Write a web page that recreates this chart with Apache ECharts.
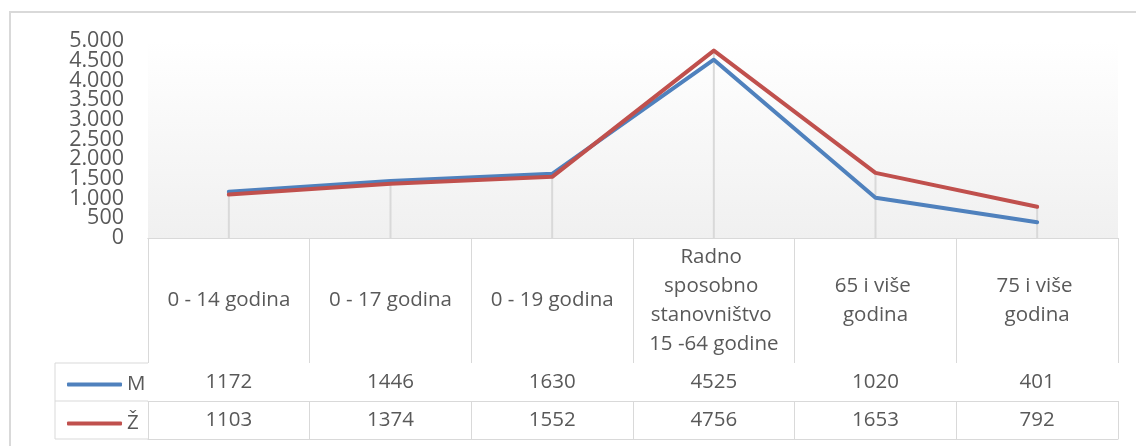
<!DOCTYPE html>
<html>
	<head>
		<meta charset="UTF-8">
		<title>Stanovništvo po dobnim skupinama</title>
		<style type="text/css">
			body{
				margin: 0;
				background: #fff;
			}
			#main{
				width: 1136px;
				height: 446px;
			}
		</style>
	</head>
	<body>
		<div id="main"></div>
		<script src="https://cdn.jsdelivr.net/npm/echarts@6/dist/echarts.min.js"></script>
		<script type="text/javascript">
			var categories = ['0 - 14 godina', '0 - 17 godina', '0 - 19 godina', 'Radno sposobno stanovništvo 15 -64 godine', '65 i više godina', '75 i više godina'];
			var seriesNames = ['M', 'Ž'];
			var valuesM = [1172, 1446, 1630, 4525, 1020, 401];
			var valuesZ = [1103, 1374, 1552, 4756, 1653, 792];
			var yRange = [0, 5000];
			// oznake osi su gusto složene pa ih dijelimo na dvije osi (inače se preklapaju i skrivaju)
			var yTicksEven = [0, 1000, 2000, 3000, 4000, 5000];
			var yTicksOdd = [500, 1500, 2500, 3500, 4500];

			// raspored (piksel)
			var gridLeft = 148, gridRight = 18, gridTop = 41, gridBottom = 208;
			var catRow = 125, valRow = 38, legendLeft = 55;
			var axisY = 446 - gridBottom;
			var lineColor = '#d9d9d9';
			var textColor = '#595959';
			var font = 'Open Sans';

			// drop linije do najviše točke
			var dropValues = [];
			for (var i = 0; i < valuesM.length; i++) {
				dropValues.push(Math.max(valuesM[i], valuesZ[i]));
			}

			function fmt(v){
				return String(v).replace(/\B(?=(\d{3})+(?!\d))/g, '.');
			}

			function valueAxis(ticks){
				return {
					type: 'value',
					position: 'left',
					min: yRange[0],
					max: yRange[1],
					axisLine: {show: false},
					axisTick: {show: false},
					splitLine: {show: false},
					axisLabel: {
						customValues: ticks,
						margin: 24,
						showMinLabel: true,
						showMaxLabel: true,
						color: textColor,
						fontFamily: font,
						fontSize: 21.5,
						formatter: fmt
					}
				};
			}

			function tableAxis(offset, values, showTicks){
				return {
					type: 'category',
					position: 'bottom',
					offset: offset,
					data: categories,
					axisLine: {show: true, lineStyle: {color: lineColor, width: 1}},
					axisTick: {show: showTicks, length: valRow, interval: 0, lineStyle: {color: lineColor}},
					axisLabel: {
						show: !!values,
						interval: 0,
						margin: valRow / 2,
						verticalAlign: 'middle',
						color: textColor,
						fontFamily: font,
						fontSize: 20.5,
						formatter: function(v, idx){ return values ? String(values[idx]) : ''; }
					},
					splitLine: {show: false}
				};
			}

			var myChart = echarts.init(document.getElementById('main'));
			var option = {
				animation: false,
				color: ['#4f81bd', '#c0504d'],
				grid: {
					left: gridLeft, right: gridRight, top: gridTop, bottom: gridBottom,
					show: true,
					borderWidth: 0,
					backgroundColor: new echarts.graphic.LinearGradient(0, 0, 0, 1, [
						{offset: 0, color: '#ffffff'},
						{offset: 1, color: '#f0f0f0'}
					])
				},
				legend: {
					orient: 'vertical',
					left: legendLeft + 7,
					top: axisY + catRow + valRow / 2 - 13,
					itemWidth: 55,
					itemHeight: 4,
					itemGap: 18,
					icon: 'roundRect',
					data: seriesNames,
					textStyle: {color: textColor, fontFamily: font, fontSize: 20.5, lineHeight: 20, padding: [0, 0, 0, 0]}
				},
				xAxis: [
					{
						type: 'category',
						data: categories,
						axisLine: {show: true, lineStyle: {color: lineColor, width: 1}},
						axisTick: {show: true, length: catRow, interval: 0, lineStyle: {color: lineColor}},
						axisLabel: {
							interval: 0,
							margin: catRow / 2,
							verticalAlign: 'middle',
							width: 138,
							overflow: 'break',
							lineHeight: 29,
							color: textColor,
							fontFamily: font,
							fontSize: 20.5
						},
						splitLine: {show: false}
					},
					tableAxis(catRow, valuesM, true),
					tableAxis(catRow + valRow, valuesZ, true),
					tableAxis(catRow + valRow * 2, null, false)
				],
				yAxis: [valueAxis(yTicksEven), valueAxis(yTicksOdd)],
				series: [
					{
						name: 'drop',
						type: 'bar',
						barWidth: 2,
						silent: true,
						itemStyle: {color: lineColor},
						data: dropValues,
						z: 1
					},
					{
						name: seriesNames[0],
						type: 'line',
						symbol: 'none',
						lineStyle: {width: 4, cap: 'round', join: 'round'},
						data: valuesM,
						z: 3
					},
					{
						name: seriesNames[1],
						type: 'line',
						symbol: 'none',
						lineStyle: {width: 4, cap: 'round', join: 'round'},
						data: valuesZ,
						z: 3
					}
				],
				graphic: [
					// vanjski okvir
					{type: 'rect', shape: {x: 10, y: 12, width: 1140, height: 450}, style: {fill: 'none', stroke: lineColor, lineWidth: 2}},
					// lijevi stupac tablice (legenda)
					{type: 'line', shape: {x1: legendLeft, y1: axisY + catRow, x2: gridLeft, y2: axisY + catRow}, style: {stroke: lineColor, lineWidth: 1}},
					{type: 'line', shape: {x1: legendLeft, y1: axisY + catRow + valRow, x2: gridLeft, y2: axisY + catRow + valRow}, style: {stroke: lineColor, lineWidth: 1}},
					{type: 'line', shape: {x1: legendLeft, y1: axisY + catRow + valRow * 2, x2: gridLeft, y2: axisY + catRow + valRow * 2}, style: {stroke: lineColor, lineWidth: 1}},
					{type: 'line', shape: {x1: legendLeft, y1: axisY + catRow, x2: legendLeft, y2: axisY + catRow + valRow * 2}, style: {stroke: lineColor, lineWidth: 1}}
				]
			};
			myChart.setOption(option);
		</script>
	</body>
</html>
